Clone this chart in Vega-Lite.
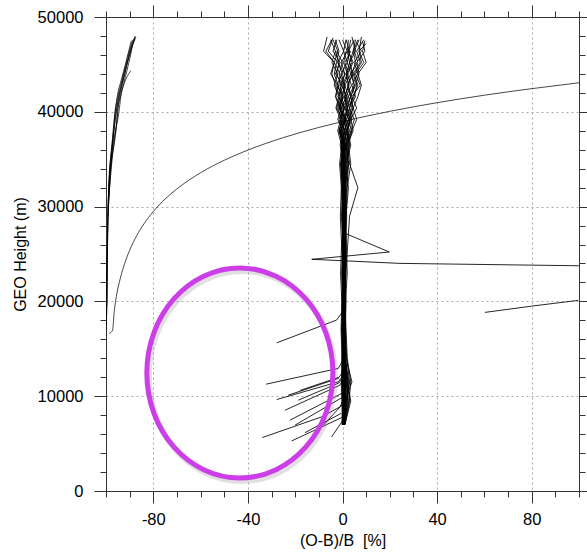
{
"$schema": "https://vega.github.io/schema/vega-lite/v6.json",
"width": 473, "height": 474,
"autosize": {"type": "none"},
"padding": {"left": 106, "top": 17, "right": 8, "bottom": 62},
"background": "white",
"config": {"view": {"stroke": null},
 "axis": {"domainColor": "#333", "domainWidth": 1, "tickColor": "#333", "tickWidth": 1, "labelFont": "Liberation Sans", "labelFontSize": 16.5, "labelColor": "#000", "titleFont": "Liberation Sans", "titleFontSize": 16, "titleFontWeight": "normal", "titleColor": "#000", "gridColor": "#aaa", "gridDash": [2, 3], "gridWidth": 1, "labelOverlap": false, "labelBound": false}},
"datasets": {
"ann": [{"x": -43.4, "y": 12455}],
"smooth": [
{"p":"k1","x":-98.6,"y":16620},{"p":"k1","x":-97.2,"y":16970},{"p":"k1","x":-96.6,"y":18730},{"p":"k1","x":-95.5,"y":20700},{"p":"k1","x":-94.0,"y":22380},{"p":"k1","x":-92.0,"y":24070},{"p":"k1","x":-90.0,"y":25390},{"p":"k1","x":-87.0,"y":26940},{"p":"k1","x":-84.0,"y":28165},{"p":"k1","x":-80.0,"y":29480},{"p":"k1","x":-75.0,"y":30800},{"p":"k1","x":-70.0,"y":31870},{"p":"k1","x":-60.0,"y":33570},{"p":"k1","x":-50.0,"y":34890},{"p":"k1","x":-40.0,"y":35960},{"p":"k1","x":-25.0,"y":37280},{"p":"k1","x":-10.0,"y":38350},{"p":"k1","x":0.0,"y":38970},{"p":"k1","x":20.0,"y":40050},{"p":"k1","x":40.0,"y":40960},{"p":"k1","x":60.0,"y":41750},{"p":"k1","x":80.0,"y":42440},{"p":"k1","x":100.0,"y":43060},
{"p":"l1","x":-99.8,"y":17500},{"p":"l1","x":-99.6,"y":22000},{"p":"l1","x":-99.3,"y":27000},{"p":"l1","x":-99.1,"y":30000},{"p":"l1","x":-98.8,"y":32460},{"p":"l1","x":-97.7,"y":35960},{"p":"l1","x":-96.8,"y":38500},{"p":"l1","x":-96.2,"y":40000},{"p":"l1","x":-95.1,"y":41520},{"p":"l1","x":-93.6,"y":43000},{"p":"l1","x":-91.8,"y":44780},{"p":"l1","x":-90.6,"y":46000},{"p":"l1","x":-89.2,"y":47000},{"p":"l1","x":-87.9,"y":47870},
{"p":"l2","x":-99.7,"y":18700},{"p":"l2","x":-99.5,"y":24000},{"p":"l2","x":-99.2,"y":29000},{"p":"l2","x":-98.7,"y":32000},{"p":"l2","x":-97.8,"y":35000},{"p":"l2","x":-96.6,"y":38000},{"p":"l2","x":-95.7,"y":40000},{"p":"l2","x":-94.7,"y":41500},{"p":"l2","x":-93.1,"y":43000},{"p":"l2","x":-91.3,"y":44800},{"p":"l2","x":-90.0,"y":46000},{"p":"l2","x":-88.8,"y":47000},{"p":"l2","x":-87.6,"y":47700},
{"p":"l3","x":-99.9,"y":17000},{"p":"l3","x":-99.6,"y":23000},{"p":"l3","x":-99.3,"y":28000},{"p":"l3","x":-98.9,"y":31500},{"p":"l3","x":-98.2,"y":34500},{"p":"l3","x":-97.0,"y":37500},{"p":"l3","x":-96.3,"y":39500},{"p":"l3","x":-95.3,"y":41500},{"p":"l3","x":-93.4,"y":43500},{"p":"l3","x":-91.8,"y":45000},{"p":"l3","x":-90.3,"y":46500},{"p":"l3","x":-89.3,"y":47500},
{"p":"l4","x":-99.6,"y":19500},{"p":"l4","x":-99.4,"y":25000},{"p":"l4","x":-99.0,"y":30000},{"p":"l4","x":-98.4,"y":33500},{"p":"l4","x":-97.3,"y":36500},{"p":"l4","x":-96.2,"y":39000},{"p":"l4","x":-95.0,"y":41000},{"p":"l4","x":-93.5,"y":42800},{"p":"l4","x":-91.9,"y":44500},{"p":"l4","x":-89.8,"y":46200},{"p":"l4","x":-88.4,"y":47400},{"p":"l4","x":-87.6,"y":48000},
{"p":"l5","x":-99.0,"y":30000},{"p":"l5","x":-98.0,"y":34000},{"p":"l5","x":-96.3,"y":37000},{"p":"l5","x":-95.6,"y":38500},{"p":"l5","x":-95.2,"y":40000},{"p":"l5","x":-94.0,"y":41500},{"p":"l5","x":-92.3,"y":43000},{"p":"l5","x":-89.4,"y":44350},
{"p":"l6","x":-98.8,"y":31000},{"p":"l6","x":-97.4,"y":35000},{"p":"l6","x":-95.9,"y":38000},{"p":"l6","x":-94.5,"y":40000},{"p":"l6","x":-93.8,"y":41500},{"p":"l6","x":-92.5,"y":43000},{"p":"l6","x":-91.0,"y":44500},{"p":"l6","x":-89.6,"y":46000},{"p":"l6","x":-88.8,"y":47000},{"p":"l6","x":-87.3,"y":47900},
{"p":"l7","x":-99.1,"y":29000},{"p":"l7","x":-98.3,"y":33000},{"p":"l7","x":-97.0,"y":36500},{"p":"l7","x":-95.4,"y":39000},{"p":"l7","x":-94.6,"y":41000},{"p":"l7","x":-93.5,"y":42500},{"p":"l7","x":-92.0,"y":44000},{"p":"l7","x":-90.7,"y":45500},{"p":"l7","x":-89.6,"y":46800},{"p":"l7","x":-88.6,"y":47600}
],
"prof": [
{"p":"c1","x":0.2,"y":7000},{"p":"c1","x":0.5,"y":9500},{"p":"c1","x":0.3,"y":11500},{"p":"c1","x":0.1,"y":14000},{"p":"c1","x":0.4,"y":17000},{"p":"c1","x":0.2,"y":20000},{"p":"c1","x":0.5,"y":23000},{"p":"c1","x":0.1,"y":26000},{"p":"c1","x":0.3,"y":29000},{"p":"c1","x":0.6,"y":32000},{"p":"c1","x":0.2,"y":34500},{"p":"c1","x":-0.5,"y":36500},{"p":"c1","x":0.8,"y":38000},{"p":"c1","x":-1.5,"y":39200},{"p":"c1","x":1.2,"y":40400},{"p":"c1","x":-2.0,"y":41600},{"p":"c1","x":0.5,"y":42800},{"p":"c1","x":-3.0,"y":44000},{"p":"c1","x":-1.0,"y":45200},{"p":"c1","x":-4.0,"y":46400},{"p":"c1","x":-2.5,"y":47600},
{"p":"c2","x":0.5,"y":7000},{"p":"c2","x":1.2,"y":9500},{"p":"c2","x":0.8,"y":11500},{"p":"c2","x":0.6,"y":14000},{"p":"c2","x":0.3,"y":17000},{"p":"c2","x":0.7,"y":20000},{"p":"c2","x":0.4,"y":23000},{"p":"c2","x":0.9,"y":26000},{"p":"c2","x":0.5,"y":29000},{"p":"c2","x":0.2,"y":32000},{"p":"c2","x":1.0,"y":34500},{"p":"c2","x":1.8,"y":36500},{"p":"c2","x":0.6,"y":38000},{"p":"c2","x":2.5,"y":39200},{"p":"c2","x":1.0,"y":40400},{"p":"c2","x":3.5,"y":41600},{"p":"c2","x":2.0,"y":42800},{"p":"c2","x":4.5,"y":44000},{"p":"c2","x":3.0,"y":45200},{"p":"c2","x":5.5,"y":46400},{"p":"c2","x":4.0,"y":47900},
{"p":"c3","x":0.0,"y":7000},{"p":"c3","x":-0.3,"y":9500},{"p":"c3","x":-0.5,"y":11500},{"p":"c3","x":-0.2,"y":14000},{"p":"c3","x":-0.6,"y":17000},{"p":"c3","x":-0.3,"y":20000},{"p":"c3","x":-0.8,"y":23000},{"p":"c3","x":-0.4,"y":26000},{"p":"c3","x":-0.9,"y":29000},{"p":"c3","x":-0.5,"y":32000},{"p":"c3","x":-1.2,"y":34500},{"p":"c3","x":-0.4,"y":36500},{"p":"c3","x":-2.0,"y":38000},{"p":"c3","x":-0.8,"y":39200},{"p":"c3","x":-2.8,"y":40400},{"p":"c3","x":-1.5,"y":41600},{"p":"c3","x":-3.5,"y":42800},{"p":"c3","x":-2.0,"y":44000},{"p":"c3","x":-4.5,"y":45200},{"p":"c3","x":-3.0,"y":46400},{"p":"c3","x":-5.0,"y":47600},
{"p":"c4","x":0.8,"y":7000},{"p":"c4","x":2.5,"y":9500},{"p":"c4","x":1.5,"y":11500},{"p":"c4","x":1.0,"y":14000},{"p":"c4","x":1.3,"y":17000},{"p":"c4","x":0.9,"y":20000},{"p":"c4","x":1.2,"y":23000},{"p":"c4","x":1.6,"y":26000},{"p":"c4","x":1.0,"y":29000},{"p":"c4","x":1.4,"y":32000},{"p":"c4","x":2.2,"y":34500},{"p":"c4","x":1.0,"y":36500},{"p":"c4","x":3.0,"y":38000},{"p":"c4","x":1.5,"y":39200},{"p":"c4","x":4.0,"y":40400},{"p":"c4","x":2.5,"y":41600},{"p":"c4","x":5.0,"y":42800},{"p":"c4","x":3.5,"y":44000},{"p":"c4","x":6.5,"y":45200},{"p":"c4","x":5.0,"y":46400},{"p":"c4","x":7.0,"y":47600},
{"p":"c5","x":0.3,"y":7000},{"p":"c5","x":0.0,"y":9500},{"p":"c5","x":0.2,"y":11500},{"p":"c5","x":0.5,"y":14000},{"p":"c5","x":0.0,"y":17000},{"p":"c5","x":0.4,"y":20000},{"p":"c5","x":0.1,"y":23000},{"p":"c5","x":-0.2,"y":26000},{"p":"c5","x":0.3,"y":29000},{"p":"c5","x":0.0,"y":32000},{"p":"c5","x":-0.8,"y":34500},{"p":"c5","x":0.5,"y":36500},{"p":"c5","x":-1.0,"y":38000},{"p":"c5","x":1.0,"y":39200},{"p":"c5","x":-0.5,"y":40400},{"p":"c5","x":1.5,"y":41600},{"p":"c5","x":0.0,"y":42800},{"p":"c5","x":2.0,"y":44000},{"p":"c5","x":0.5,"y":45200},{"p":"c5","x":1.5,"y":46400},
{"p":"c6","x":1.0,"y":7000},{"p":"c6","x":3.5,"y":9500},{"p":"c6","x":2.0,"y":11500},{"p":"c6","x":1.2,"y":14000},{"p":"c6","x":0.8,"y":17000},{"p":"c6","x":1.1,"y":20000},{"p":"c6","x":0.7,"y":23000},{"p":"c6","x":1.0,"y":26000},{"p":"c6","x":1.5,"y":29000},{"p":"c6","x":2.5,"y":32000},{"p":"c6","x":1.2,"y":34500},{"p":"c6","x":3.0,"y":36500},{"p":"c6","x":2.0,"y":38000},{"p":"c6","x":4.0,"y":39200},{"p":"c6","x":2.8,"y":40400},{"p":"c6","x":5.5,"y":41600},{"p":"c6","x":4.0,"y":42800},{"p":"c6","x":6.5,"y":44000},{"p":"c6","x":5.0,"y":45200},{"p":"c6","x":8.0,"y":46400},{"p":"c6","x":6.0,"y":47300},
{"p":"c7","x":0.1,"y":7000},{"p":"c7","x":0.4,"y":9500},{"p":"c7","x":0.0,"y":11500},{"p":"c7","x":-0.3,"y":14000},{"p":"c7","x":0.2,"y":17000},{"p":"c7","x":-0.2,"y":20000},{"p":"c7","x":0.3,"y":23000},{"p":"c7","x":-0.1,"y":26000},{"p":"c7","x":0.2,"y":29000},{"p":"c7","x":-0.4,"y":32000},{"p":"c7","x":0.5,"y":34500},{"p":"c7","x":-1.0,"y":36500},{"p":"c7","x":0.0,"y":38000},{"p":"c7","x":-2.0,"y":39200},{"p":"c7","x":-0.5,"y":40400},{"p":"c7","x":-2.8,"y":41600},{"p":"c7","x":-1.5,"y":42800},{"p":"c7","x":-1.0,"y":44000},{"p":"c7","x":-3.5,"y":45200},{"p":"c7","x":-2.0,"y":46400},{"p":"c7","x":-4.0,"y":47600},
{"p":"c8","x":0.6,"y":7000},{"p":"c8","x":1.8,"y":9500},{"p":"c8","x":2.5,"y":11500},{"p":"c8","x":0.9,"y":14000},{"p":"c8","x":0.5,"y":17000},{"p":"c8","x":0.8,"y":20000},{"p":"c8","x":1.0,"y":23000},{"p":"c8","x":0.6,"y":26000},{"p":"c8","x":0.9,"y":29000},{"p":"c8","x":1.2,"y":32000},{"p":"c8","x":0.4,"y":34500},{"p":"c8","x":1.5,"y":36500},{"p":"c8","x":2.5,"y":38000},{"p":"c8","x":1.0,"y":39200},{"p":"c8","x":3.0,"y":40400},{"p":"c8","x":1.5,"y":41600},{"p":"c8","x":3.8,"y":42800},{"p":"c8","x":2.0,"y":44000},{"p":"c8","x":4.5,"y":45200},{"p":"c8","x":2.5,"y":46400},{"p":"c8","x":3.5,"y":47600},
{"p":"c9","x":-0.2,"y":7000},{"p":"c9","x":0.2,"y":9500},{"p":"c9","x":-0.1,"y":11500},{"p":"c9","x":0.3,"y":14000},{"p":"c9","x":-0.4,"y":17000},{"p":"c9","x":0.0,"y":20000},{"p":"c9","x":-0.3,"y":23000},{"p":"c9","x":0.2,"y":26000},{"p":"c9","x":-0.2,"y":29000},{"p":"c9","x":0.4,"y":32000},{"p":"c9","x":-0.5,"y":34500},{"p":"c9","x":0.8,"y":36500},{"p":"c9","x":-0.8,"y":38000},{"p":"c9","x":1.2,"y":39200},{"p":"c9","x":-1.5,"y":40400},{"p":"c9","x":0.5,"y":41600},{"p":"c9","x":-2.5,"y":42800},{"p":"c9","x":0.0,"y":44000},{"p":"c9","x":-2.0,"y":45200},{"p":"c9","x":-6.0,"y":46400},{"p":"c9","x":-4.0,"y":47800},
{"p":"c10","x":0.4,"y":7000},{"p":"c10","x":1.0,"y":9500},{"p":"c10","x":4.0,"y":11500},{"p":"c10","x":1.5,"y":14000},{"p":"c10","x":1.0,"y":17000},{"p":"c10","x":0.6,"y":20000},{"p":"c10","x":0.9,"y":23000},{"p":"c10","x":1.3,"y":26000},{"p":"c10","x":0.7,"y":29000},{"p":"c10","x":1.0,"y":32000},{"p":"c10","x":1.8,"y":34500},{"p":"c10","x":2.8,"y":36500},{"p":"c10","x":1.5,"y":38000},{"p":"c10","x":3.5,"y":39200},{"p":"c10","x":2.0,"y":40400},{"p":"c10","x":5.0,"y":41600},{"p":"c10","x":6.0,"y":42800},{"p":"c10","x":4.5,"y":44000},{"p":"c10","x":7.5,"y":45200},{"p":"c10","x":6.0,"y":46400},{"p":"c10","x":9.0,"y":47600},
{"p":"c11","x":0.2,"y":7000},{"p":"c11","x":0.6,"y":9500},{"p":"c11","x":0.9,"y":11500},{"p":"c11","x":0.4,"y":14000},{"p":"c11","x":0.7,"y":17000},{"p":"c11","x":0.3,"y":20000},{"p":"c11","x":0.6,"y":23000},{"p":"c11","x":0.2,"y":26000},{"p":"c11","x":0.5,"y":29000},{"p":"c11","x":0.9,"y":32000},{"p":"c11","x":0.3,"y":34500},{"p":"c11","x":1.2,"y":36500},{"p":"c11","x":0.0,"y":38000},{"p":"c11","x":1.5,"y":39200},{"p":"c11","x":-1.0,"y":40400},{"p":"c11","x":2.0,"y":41600},{"p":"c11","x":-0.5,"y":42800},{"p":"c11","x":1.0,"y":44000},{"p":"c11","x":-2.0,"y":45200},{"p":"c11","x":0.5,"y":46400},{"p":"c11","x":-1.5,"y":47600},
{"p":"c12","x":0.7,"y":7000},{"p":"c12","x":2.0,"y":9500},{"p":"c12","x":3.0,"y":11500},{"p":"c12","x":1.8,"y":14000},{"p":"c12","x":1.2,"y":17000},{"p":"c12","x":1.5,"y":20000},{"p":"c12","x":1.0,"y":23000},{"p":"c12","x":1.4,"y":26000},{"p":"c12","x":1.8,"y":29000},{"p":"c12","x":1.1,"y":32000},{"p":"c12","x":2.5,"y":34500},{"p":"c12","x":1.5,"y":36500},{"p":"c12","x":3.5,"y":38000},{"p":"c12","x":5.0,"y":39200},{"p":"c12","x":3.0,"y":40400},{"p":"c12","x":4.5,"y":41600},{"p":"c12","x":6.5,"y":42800},{"p":"c12","x":5.0,"y":44000},{"p":"c12","x":8.0,"y":45200},{"p":"c12","x":7.0,"y":46400},{"p":"c12","x":10.0,"y":47200},
{"p":"c13","x":0.0,"y":7000},{"p":"c13","x":0.3,"y":9500},{"p":"c13","x":0.6,"y":11500},{"p":"c13","x":0.2,"y":14000},{"p":"c13","x":0.5,"y":17000},{"p":"c13","x":0.1,"y":20000},{"p":"c13","x":0.4,"y":23000},{"p":"c13","x":0.0,"y":26000},{"p":"c13","x":0.4,"y":29000},{"p":"c13","x":0.1,"y":32000},{"p":"c13","x":0.6,"y":34500},{"p":"c13","x":-0.2,"y":36500},{"p":"c13","x":1.0,"y":38000},{"p":"c13","x":-0.5,"y":39200},{"p":"c13","x":0.5,"y":40400},{"p":"c13","x":-1.5,"y":41600},{"p":"c13","x":-0.5,"y":42800},{"p":"c13","x":-2.5,"y":44000},{"p":"c13","x":-1.5,"y":45200},{"p":"c13","x":-3.0,"y":46400},
{"p":"c14","x":0.5,"y":7000},{"p":"c14","x":1.5,"y":9500},{"p":"c14","x":2.0,"y":11500},{"p":"c14","x":0.7,"y":14000},{"p":"c14","x":0.4,"y":17000},{"p":"c14","x":0.9,"y":20000},{"p":"c14","x":0.6,"y":23000},{"p":"c14","x":1.0,"y":26000},{"p":"c14","x":0.6,"y":29000},{"p":"c14","x":0.8,"y":32000},{"p":"c14","x":1.4,"y":34500},{"p":"c14","x":0.6,"y":36500},{"p":"c14","x":2.0,"y":38000},{"p":"c14","x":3.0,"y":39200},{"p":"c14","x":1.8,"y":40400},{"p":"c14","x":3.5,"y":41600},{"p":"c14","x":2.5,"y":42800},{"p":"c14","x":4.0,"y":44000},{"p":"c14","x":3.0,"y":45200},{"p":"c14","x":4.5,"y":46400},{"p":"c14","x":5.5,"y":47600},
{"p":"c15","x":0.3,"y":7000},{"p":"c15","x":0.8,"y":9500},{"p":"c15","x":1.2,"y":11500},{"p":"c15","x":0.5,"y":14000},{"p":"c15","x":0.9,"y":17000},{"p":"c15","x":0.6,"y":20000},{"p":"c15","x":1.1,"y":23000},{"p":"c15","x":0.8,"y":26000},{"p":"c15","x":1.2,"y":29000},{"p":"c15","x":0.7,"y":32000},{"p":"c15","x":0.2,"y":34500},{"p":"c15","x":1.0,"y":36500},{"p":"c15","x":-0.5,"y":38000},{"p":"c15","x":0.5,"y":39200},{"p":"c15","x":-1.0,"y":40400},{"p":"c15","x":0.0,"y":41600},{"p":"c15","x":1.0,"y":42800},{"p":"c15","x":-0.5,"y":44000},{"p":"c15","x":2.0,"y":45200},{"p":"c15","x":0.5,"y":46400},{"p":"c15","x":1.5,"y":47600},
{"p":"c16","x":0.9,"y":7000},{"p":"c16","x":2.8,"y":9500},{"p":"c16","x":3.5,"y":11500},{"p":"c16","x":2.0,"y":14000},{"p":"c16","x":1.5,"y":17000},{"p":"c16","x":1.0,"y":20000},{"p":"c16","x":1.5,"y":23000},{"p":"c16","x":2.2,"y":26000},{"p":"c16","x":3.0,"y":29000},{"p":"c16","x":6.5,"y":32000},{"p":"c16","x":3.0,"y":34500},{"p":"c16","x":2.0,"y":36500},{"p":"c16","x":4.5,"y":38000},{"p":"c16","x":3.5,"y":39200},{"p":"c16","x":6.0,"y":40400},{"p":"c16","x":4.0,"y":41600},{"p":"c16","x":7.5,"y":42800},{"p":"c16","x":5.5,"y":44000},{"p":"c16","x":9.0,"y":45200},{"p":"c16","x":7.0,"y":46400},{"p":"c16","x":8.0,"y":47900},
{"p":"c17","x":-0.1,"y":7000},{"p":"c17","x":0.1,"y":9500},{"p":"c17","x":0.4,"y":11500},{"p":"c17","x":0.0,"y":14000},{"p":"c17","x":0.3,"y":17000},{"p":"c17","x":-0.1,"y":20000},{"p":"c17","x":0.2,"y":23000},{"p":"c17","x":0.5,"y":26000},{"p":"c17","x":0.0,"y":29000},{"p":"c17","x":0.3,"y":32000},{"p":"c17","x":-0.3,"y":34500},{"p":"c17","x":0.6,"y":36500},{"p":"c17","x":-1.5,"y":38000},{"p":"c17","x":0.0,"y":39200},{"p":"c17","x":-2.5,"y":40400},{"p":"c17","x":-1.0,"y":41600},{"p":"c17","x":-3.0,"y":42800},{"p":"c17","x":-4.5,"y":44000},{"p":"c17","x":-3.5,"y":45200},{"p":"c17","x":-7.0,"y":46400},{"p":"c17","x":-4.5,"y":47600},
{"p":"c18","x":0.6,"y":7000},{"p":"c18","x":1.4,"y":9500},{"p":"c18","x":1.0,"y":11500},{"p":"c18","x":0.8,"y":14000},{"p":"c18","x":1.1,"y":17000},{"p":"c18","x":0.5,"y":20000},{"p":"c18","x":0.8,"y":23000},{"p":"c18","x":0.4,"y":26000},{"p":"c18","x":0.7,"y":29000},{"p":"c18","x":1.5,"y":32000},{"p":"c18","x":0.8,"y":34500},{"p":"c18","x":2.0,"y":36500},{"p":"c18","x":1.0,"y":38000},{"p":"c18","x":2.5,"y":39200},{"p":"c18","x":1.5,"y":40400},{"p":"c18","x":1.0,"y":41600},{"p":"c18","x":2.5,"y":42800},{"p":"c18","x":1.5,"y":44000},{"p":"c18","x":3.0,"y":45200},{"p":"c18","x":2.0,"y":46400},{"p":"c18","x":2.5,"y":47600},
{"p":"c19","x":0.2,"y":7000},{"p":"c19","x":0.7,"y":9500},{"p":"c19","x":0.4,"y":11500},{"p":"c19","x":0.6,"y":14000},{"p":"c19","x":0.2,"y":17000},{"p":"c19","x":0.5,"y":20000},{"p":"c19","x":0.0,"y":23000},{"p":"c19","x":0.4,"y":26000},{"p":"c19","x":0.1,"y":29000},{"p":"c19","x":-0.2,"y":32000},{"p":"c19","x":0.5,"y":34500},{"p":"c19","x":-0.5,"y":36500},{"p":"c19","x":0.6,"y":38000},{"p":"c19","x":-1.0,"y":39200},{"p":"c19","x":0.8,"y":40400},{"p":"c19","x":-0.5,"y":41600},{"p":"c19","x":1.0,"y":42800},{"p":"c19","x":-1.5,"y":44000},{"p":"c19","x":0.0,"y":45200},{"p":"c19","x":-2.5,"y":46400},
{"p":"c20","x":1.1,"y":7000},{"p":"c20","x":3.0,"y":9500},{"p":"c20","x":2.2,"y":11500},{"p":"c20","x":1.4,"y":14000},{"p":"c20","x":1.0,"y":17000},{"p":"c20","x":1.3,"y":20000},{"p":"c20","x":2.0,"y":23000},{"p":"c20","x":1.5,"y":26000},{"p":"c20","x":1.1,"y":29000},{"p":"c20","x":1.8,"y":32000},{"p":"c20","x":2.6,"y":34500},{"p":"c20","x":1.8,"y":36500},{"p":"c20","x":3.8,"y":38000},{"p":"c20","x":2.5,"y":39200},{"p":"c20","x":4.5,"y":40400},{"p":"c20","x":3.5,"y":41600},{"p":"c20","x":5.5,"y":42800},{"p":"c20","x":7.0,"y":44000},{"p":"c20","x":6.0,"y":45200},{"p":"c20","x":9.5,"y":46400},{"p":"c20","x":8.5,"y":47400},
{"p":"c21","x":0.4,"y":7000},{"p":"c21","x":0.9,"y":9500},{"p":"c21","x":1.6,"y":11500},{"p":"c21","x":1.1,"y":14000},{"p":"c21","x":0.6,"y":17000},{"p":"c21","x":0.9,"y":20000},{"p":"c21","x":0.5,"y":23000},{"p":"c21","x":0.8,"y":26000},{"p":"c21","x":0.4,"y":29000},{"p":"c21","x":0.7,"y":32000},{"p":"c21","x":0.0,"y":34500},{"p":"c21","x":0.9,"y":36500},{"p":"c21","x":-0.5,"y":38000},{"p":"c21","x":1.5,"y":39200},{"p":"c21","x":0.0,"y":40400},{"p":"c21","x":2.5,"y":41600},{"p":"c21","x":1.0,"y":42800},{"p":"c21","x":3.5,"y":44000},{"p":"c21","x":2.0,"y":45200},{"p":"c21","x":3.0,"y":46400},{"p":"c21","x":1.5,"y":47600},
{"p":"c22","x":0.1,"y":7000},{"p":"c22","x":0.3,"y":9500},{"p":"c22","x":0.7,"y":11500},{"p":"c22","x":0.3,"y":14000},{"p":"c22","x":0.1,"y":17000},{"p":"c22","x":0.3,"y":20000},{"p":"c22","x":0.1,"y":23000},{"p":"c22","x":0.3,"y":26000},{"p":"c22","x":0.0,"y":29000},{"p":"c22","x":0.2,"y":32000},{"p":"c22","x":-0.5,"y":34500},{"p":"c22","x":-0.1,"y":36500},{"p":"c22","x":-1.2,"y":38000},{"p":"c22","x":-0.3,"y":39200},{"p":"c22","x":-2.0,"y":40400},{"p":"c22","x":-0.5,"y":41600},{"p":"c22","x":-1.8,"y":42800},{"p":"c22","x":-3.5,"y":44000},{"p":"c22","x":-2.5,"y":45200},{"p":"c22","x":-1.5,"y":46400},{"p":"c22","x":-3.0,"y":47600},
{"p":"c23","x":0.8,"y":7000},{"p":"c23","x":2.2,"y":9500},{"p":"c23","x":1.8,"y":11500},{"p":"c23","x":1.3,"y":14000},{"p":"c23","x":0.7,"y":17000},{"p":"c23","x":1.2,"y":20000},{"p":"c23","x":0.8,"y":23000},{"p":"c23","x":1.1,"y":26000},{"p":"c23","x":0.6,"y":29000},{"p":"c23","x":1.0,"y":32000},{"p":"c23","x":1.5,"y":34500},{"p":"c23","x":3.5,"y":36500},{"p":"c23","x":2.2,"y":38000},{"p":"c23","x":3.0,"y":39200},{"p":"c23","x":4.5,"y":40400},{"p":"c23","x":3.5,"y":41600},{"p":"c23","x":5.0,"y":42800},{"p":"c23","x":4.0,"y":44000},{"p":"c23","x":5.5,"y":45200},{"p":"c23","x":4.5,"y":46400},{"p":"c23","x":6.5,"y":47600},
{"p":"c24","x":0.2,"y":7000},{"p":"c24","x":0.5,"y":9500},{"p":"c24","x":1.0,"y":11500},{"p":"c24","x":0.4,"y":14000},{"p":"c24","x":0.2,"y":17000},{"p":"c24","x":0.6,"y":20000},{"p":"c24","x":0.3,"y":23000},{"p":"c24","x":0.7,"y":26000},{"p":"c24","x":0.3,"y":29000},{"p":"c24","x":0.5,"y":32000},{"p":"c24","x":0.9,"y":34500},{"p":"c24","x":0.2,"y":36500},{"p":"c24","x":1.5,"y":38000},{"p":"c24","x":0.8,"y":39200},{"p":"c24","x":2.0,"y":40400},{"p":"c24","x":1.2,"y":41600},{"p":"c24","x":0.5,"y":42800},{"p":"c24","x":2.5,"y":44000},{"p":"c24","x":1.0,"y":45200},{"p":"c24","x":3.5,"y":46400},
{"p":"c25","x":0.5,"y":7000},{"p":"c25","x":1.6,"y":9500},{"p":"c25","x":2.8,"y":11500},{"p":"c25","x":1.0,"y":14000},{"p":"c25","x":0.8,"y":17000},{"p":"c25","x":0.4,"y":20000},{"p":"c25","x":1.2,"y":23000},{"p":"c25","x":0.7,"y":26000},{"p":"c25","x":1.0,"y":29000},{"p":"c25","x":0.6,"y":32000},{"p":"c25","x":1.2,"y":34500},{"p":"c25","x":0.4,"y":36500},{"p":"c25","x":1.8,"y":38000},{"p":"c25","x":0.5,"y":39200},{"p":"c25","x":2.2,"y":40400},{"p":"c25","x":0.8,"y":41600},{"p":"c25","x":2.8,"y":42800},{"p":"c25","x":1.5,"y":44000},{"p":"c25","x":4.0,"y":45200},{"p":"c25","x":2.5,"y":46400},{"p":"c25","x":5.0,"y":47600},
{"p":"c26","x":0.0,"y":7000},{"p":"c26","x":0.2,"y":9500},{"p":"c26","x":-0.2,"y":11500},{"p":"c26","x":0.1,"y":14000},{"p":"c26","x":-0.3,"y":17000},{"p":"c26","x":0.2,"y":20000},{"p":"c26","x":-0.2,"y":23000},{"p":"c26","x":0.1,"y":26000},{"p":"c26","x":-0.4,"y":29000},{"p":"c26","x":-0.1,"y":32000},{"p":"c26","x":-0.7,"y":34500},{"p":"c26","x":0.2,"y":36500},{"p":"c26","x":-1.5,"y":38000},{"p":"c26","x":0.0,"y":39200},{"p":"c26","x":-1.2,"y":40400},{"p":"c26","x":-3.0,"y":41600},{"p":"c26","x":-2.0,"y":42800},{"p":"c26","x":-5.0,"y":44000},{"p":"c26","x":-3.5,"y":45200},{"p":"c26","x":-8.0,"y":46400},{"p":"c26","x":-6.5,"y":47900},
{"p":"c27","x":0.6,"y":7000},{"p":"c27","x":1.0,"y":9500},{"p":"c27","x":1.4,"y":11500},{"p":"c27","x":0.9,"y":14000},{"p":"c27","x":1.0,"y":17000},{"p":"c27","x":0.8,"y":20000},{"p":"c27","x":1.3,"y":23000},{"p":"c27","x":0.9,"y":26000},{"p":"c27","x":1.4,"y":29000},{"p":"c27","x":2.0,"y":32000},{"p":"c27","x":3.5,"y":34500},{"p":"c27","x":2.5,"y":36500},{"p":"c27","x":4.0,"y":38000},{"p":"c27","x":6.0,"y":39200},{"p":"c27","x":4.5,"y":40400},{"p":"c27","x":6.5,"y":41600},{"p":"c27","x":8.0,"y":42800},{"p":"c27","x":6.5,"y":44000},{"p":"c27","x":10.0,"y":45200},{"p":"c27","x":8.5,"y":46400},{"p":"c27","x":9.5,"y":47500},
{"p":"c28","x":0.3,"y":7000},{"p":"c28","x":0.5,"y":9500},{"p":"c28","x":0.8,"y":11500},{"p":"c28","x":0.5,"y":14000},{"p":"c28","x":0.6,"y":17000},{"p":"c28","x":0.9,"y":20000},{"p":"c28","x":0.5,"y":23000},{"p":"c28","x":0.8,"y":26000},{"p":"c28","x":0.5,"y":29000},{"p":"c28","x":0.3,"y":32000},{"p":"c28","x":-0.4,"y":34500},{"p":"c28","x":0.6,"y":36500},{"p":"c28","x":-0.8,"y":38000},{"p":"c28","x":1.0,"y":39200},{"p":"c28","x":-1.5,"y":40400},{"p":"c28","x":0.0,"y":41600},{"p":"c28","x":-1.0,"y":42800},{"p":"c28","x":1.0,"y":44000},{"p":"c28","x":-0.5,"y":45200},{"p":"c28","x":2.0,"y":46400},{"p":"c28","x":0.0,"y":47600},
{"p":"f1","x":-27.8,"y":15630},{"p":"f1","x":-2.5,"y":18030},{"p":"f1","x":0.3,"y":19000},
{"p":"f2","x":-32.3,"y":11270},{"p":"f2","x":-1.8,"y":12930},{"p":"f2","x":0.2,"y":13800},
{"p":"f3","x":-27.8,"y":9650},{"p":"f3","x":-1.8,"y":11510},{"p":"f3","x":0.3,"y":12200},
{"p":"f4","x":-24.3,"y":8520},{"p":"f4","x":-1.1,"y":11160},{"p":"f4","x":0.4,"y":11800},
{"p":"f5","x":-22.2,"y":7470},{"p":"f5","x":-0.3,"y":10290},{"p":"f5","x":0.5,"y":11000},
{"p":"f6","x":-20.1,"y":6940},{"p":"f6","x":0.3,"y":9930},{"p":"f6","x":0.6,"y":10600},
{"p":"f7","x":-33.9,"y":5640},{"p":"f7","x":-8.8,"y":7820},{"p":"f7","x":-1.1,"y":8870},{"p":"f7","x":0.3,"y":9600},
{"p":"f8","x":-21.5,"y":5280},{"p":"f8","x":0.3,"y":7820},{"p":"f8","x":0.5,"y":8600},
{"p":"f9","x":-18.7,"y":9580},{"p":"f9","x":-1.5,"y":11400},{"p":"f9","x":0.2,"y":12000},
{"p":"f10","x":-8.1,"y":6940},{"p":"f10","x":0.2,"y":9200},
{"p":"f11","x":-4.6,"y":5700},{"p":"f11","x":0.3,"y":7500},
{"p":"f12","x":-18.0,"y":10600},{"p":"f12","x":-1.5,"y":12000},{"p":"f12","x":0.3,"y":12600},
{"p":"f13","x":-15.9,"y":6150},{"p":"f13","x":-0.5,"y":8200},
{"p":"f14","x":-23.0,"y":10100},{"p":"f14","x":-1.6,"y":11900},
{"p":"s1","x":0.5,"y":30000},{"p":"s1","x":1.1,"y":27180},{"p":"s1","x":19.8,"y":25210},{"p":"s1","x":-13.0,"y":24440},{"p":"s1","x":24.3,"y":24010},{"p":"s1","x":100.0,"y":23760},
{"p":"r1","x":60.2,"y":18840},{"p":"r1","x":80.0,"y":19500},{"p":"r1","x":99.7,"y":20110}
]},
"resolve": {"axis": {"x": "independent", "y": "independent"}},
"layer": [
 {"data": {"name": "prof"},
  "mark": {"type": "line", "stroke": "#000", "strokeWidth": 1.0, "opacity": 0.85, "clip": true},
  "encoding": {
   "x": {"field": "x", "type": "quantitative", "scale": {"domain": [-100, 100], "nice": false, "zero": false},
    "axis": {"orient": "bottom", "values": [-80, -40, 0, 40, 80], "tickSize": 12, "labelExpr": "'' + datum.value", "labelPadding": 8, "grid": true, "title": "(O-B)/B\u00a0\u00a0[%]", "titlePadding": 5}},
   "y": {"field": "y", "type": "quantitative", "scale": {"domain": [0, 50000], "nice": false, "zero": false},
    "axis": {"orient": "left", "values": [0, 10000, 20000, 30000, 40000, 50000], "tickSize": 12, "labelExpr": "'' + datum.value", "labelPadding": 11, "grid": true, "title": "GEO Height (m)", "titlePadding": 9}},
   "detail": {"field": "p", "type": "nominal"},
   "order": {"field": "y", "type": "quantitative"}
  }},
 {"data": {"name": "smooth"},
  "mark": {"type": "line", "stroke": "#000", "strokeWidth": 0.9, "opacity": 0.8, "clip": true, "interpolate": "monotone"},
  "encoding": {
   "x": {"field": "x", "type": "quantitative", "scale": {"domain": [-100, 100], "nice": false, "zero": false}, "axis": null},
   "y": {"field": "y", "type": "quantitative", "scale": {"domain": [0, 50000], "nice": false, "zero": false}, "axis": null},
   "detail": {"field": "p", "type": "nominal"},
   "order": {"field": "y", "type": "quantitative"}
  }},
 {"data": {"name": "ann"},
  "mark": {"type": "point", "shape": "M 0.886 0 C 0.886 0.5523 0.4893 1 0 1 C -0.4893 1 -0.886 0.5523 -0.886 0 C -0.886 -0.5523 -0.4893 -1 0 -1 C 0.4893 -1 0.886 -0.5523 0.886 0 Z", "size": 44100, "filled": false, "color": "#888", "strokeWidth": 6, "opacity": 0.25, "xOffset": 2, "yOffset": 3},
  "encoding": {
   "x": {"field": "x", "type": "quantitative", "scale": {"domain": [-100, 100], "nice": false, "zero": false}, "axis": null},
   "y": {"field": "y", "type": "quantitative", "scale": {"domain": [0, 50000], "nice": false, "zero": false}, "axis": null}
  }},
 {"data": {"name": "ann"},
  "mark": {"type": "point", "shape": "M 0.886 0 C 0.886 0.5523 0.4893 1 0 1 C -0.4893 1 -0.886 0.5523 -0.886 0 C -0.886 -0.5523 -0.4893 -1 0 -1 C 0.4893 -1 0.886 -0.5523 0.886 0 Z", "size": 44100, "filled": false, "color": "#cc3fe8", "strokeWidth": 5, "opacity": 1, "strokeOpacity": 1},
  "encoding": {
   "x": {"field": "x", "type": "quantitative", "scale": {"domain": [-100, 100], "nice": false, "zero": false},
    "axis": {"orient": "top", "values": [-80, -40, 0, 40, 80], "tickSize": 12, "labels": false, "grid": false, "title": null}},
   "y": {"field": "y", "type": "quantitative", "scale": {"domain": [0, 50000], "nice": false, "zero": false},
    "axis": {"orient": "right", "values": [0, 10000, 20000, 30000, 40000, 50000], "tickSize": 12, "labels": false, "grid": false, "title": null}}
  }},
 {"data": {"name": "ann"},
  "mark": {"type": "point", "opacity": 0},
  "encoding": {
   "x": {"field": "x", "type": "quantitative", "scale": {"domain": [-100, 100], "nice": false, "zero": false},
    "axis": {"orient": "bottom", "values": [-100, -90, -80, -70, -60, -50, -40, -30, -20, -10, 0, 10, 20, 30, 40, 50, 60, 70, 80, 90, 100], "tickSize": 6, "labels": false, "grid": false, "domain": false, "title": null}},
   "y": {"field": "y", "type": "quantitative", "scale": {"domain": [0, 50000], "nice": false, "zero": false},
    "axis": {"orient": "left", "values": [0, 2000, 4000, 6000, 8000, 10000, 12000, 14000, 16000, 18000, 20000, 22000, 24000, 26000, 28000, 30000, 32000, 34000, 36000, 38000, 40000, 42000, 44000, 46000, 48000, 50000], "tickSize": 6, "labels": false, "grid": false, "domain": false, "title": null}}
  }},
 {"data": {"name": "ann"},
  "mark": {"type": "point", "opacity": 0},
  "encoding": {
   "x": {"field": "x", "type": "quantitative", "scale": {"domain": [-100, 100], "nice": false, "zero": false},
    "axis": {"orient": "top", "values": [-100, -90, -80, -70, -60, -50, -40, -30, -20, -10, 0, 10, 20, 30, 40, 50, 60, 70, 80, 90, 100], "tickSize": 6, "labels": false, "grid": false, "domain": false, "title": null}},
   "y": {"field": "y", "type": "quantitative", "scale": {"domain": [0, 50000], "nice": false, "zero": false},
    "axis": {"orient": "right", "values": [0, 2000, 4000, 6000, 8000, 10000, 12000, 14000, 16000, 18000, 20000, 22000, 24000, 26000, 28000, 30000, 32000, 34000, 36000, 38000, 40000, 42000, 44000, 46000, 48000, 50000], "tickSize": 6, "labels": false, "grid": false, "domain": false, "title": null}}
  }}
]
}
